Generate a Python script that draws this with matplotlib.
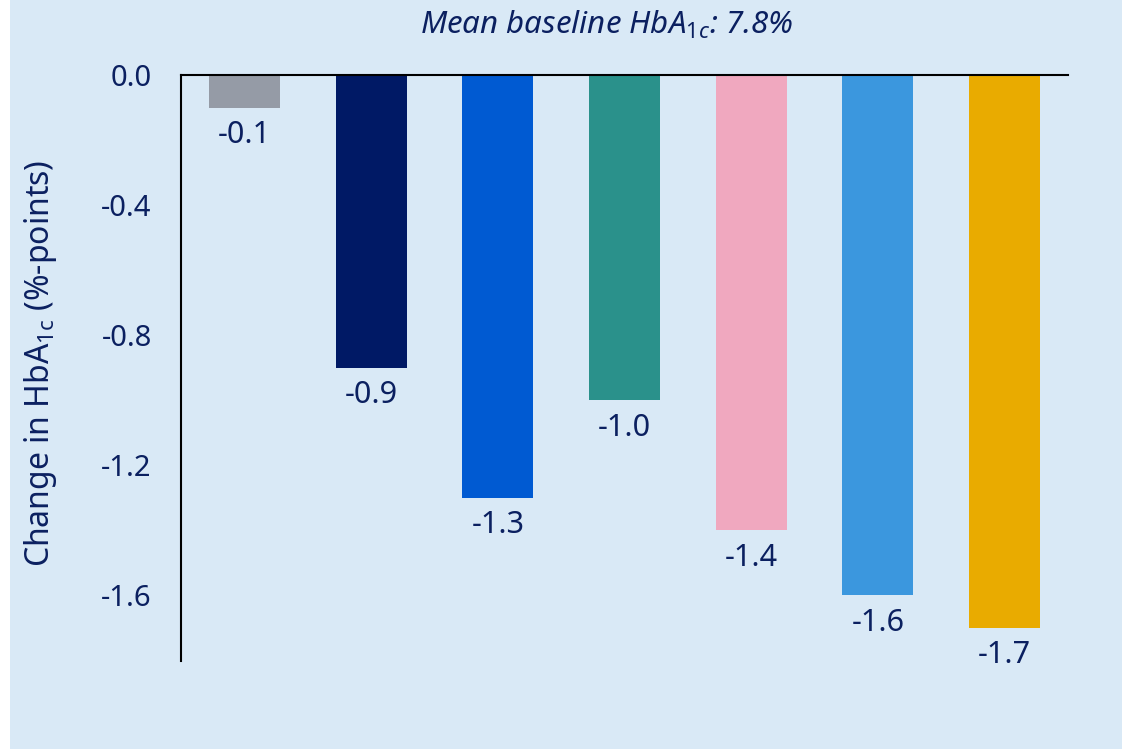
import matplotlib
matplotlib.use("Agg")
import matplotlib.pyplot as plt
from matplotlib.patches import Rectangle

plt.rcParams["font.family"] = ["Noto Sans", "DejaVu Sans"]
plt.rcParams["mathtext.fontset"] = "custom"
plt.rcParams["mathtext.rm"] = "Noto Sans"
plt.rcParams["mathtext.it"] = "Noto Sans:italic"
plt.rcParams["axes.unicode_minus"] = False

# data
groups = ["A", "B", "C", "D", "E", "F", "G"]
changes = [-0.1, -0.9, -1.3, -1.0, -1.4, -1.6, -1.7]
bar_colors = ["#959ba6", "#001965", "#005ad2", "#2a918b", "#f0a8bf", "#3b97de", "#e9ab00"]
y_ticks = [0.0, -0.4, -0.8, -1.2, -1.6]

text_color = "#0b2060"
bg_color = "#d9e9f6"

fig = plt.figure(figsize=(11.22, 7.49), dpi=100)
fig.patch.set_facecolor("white")
fig.patches.append(Rectangle((10 / 1122, 0), 1, 1, transform=fig.transFigure,
                             facecolor=bg_color, edgecolor="none", zorder=-10))

ax = fig.add_axes([181 / 1122, 1 - 660.5 / 749, 887 / 1122, 585.5 / 749])
ax.set_facecolor("none")

x = list(range(len(groups)))
ax.bar(x, changes, width=0.56, color=bar_colors, zorder=2)

for xi, v in zip(x, changes):
    ax.annotate(f"{v:.1f}", (xi, v), xytext=(0, -9), textcoords="offset points",
                ha="center", va="top", fontsize=22, color=text_color)

ax.set_xlim(-0.5, 6.5)
ax.set_ylim(-1.8, 0)
ax.set_xticks([])
ax.set_yticks(y_ticks)
ax.set_yticklabels([f"{t:.1f}" for t in y_ticks])
ax.tick_params(axis="y", length=0, pad=21, labelsize=21, labelcolor=text_color)

for side in ["right", "bottom"]:
    ax.spines[side].set_visible(False)
ax.spines["left"].set_linewidth(1.5)
ax.spines["top"].set_linewidth(1.5)
ax.spines["left"].set_color("black")
ax.spines["top"].set_color("black")

fig.text(41 / 1122, 1 - 363 / 749, r"Change in HbA$_{\mathrm{1c}}$ (%-points)",
         rotation=90, ha="center", va="center", fontsize=23, color=text_color)

fig.text(607 / 1122, 1 - 25 / 749, r"Mean baseline HbA$_{\mathit{1c}}$: 7.8%",
         ha="center", va="center", fontsize=22.5, style="italic", color=text_color)

fig.savefig("out.png", dpi=100, facecolor=fig.get_facecolor())
